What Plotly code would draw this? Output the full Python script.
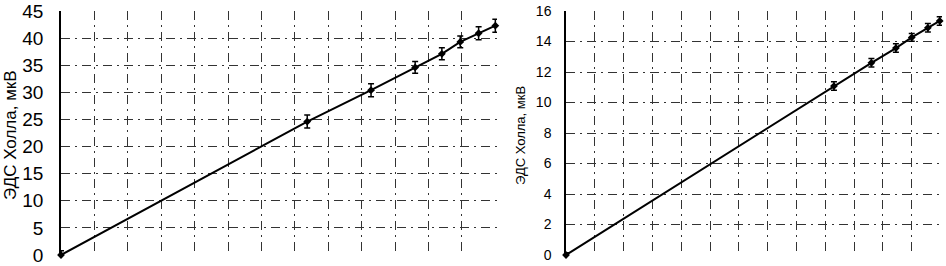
import plotly.graph_objects as go

# Data (x in grid units)
x_left = [0, 7.37, 9.28, 10.6, 11.4, 11.95, 12.5, 13.0]
y_left = [0, 24.6, 30.4, 34.6, 37.1, 39.3, 40.9, 42.3]
err_left = [0.8, 1.2, 1.2, 1.1, 1.1, 1.1, 1.2, 1.2]

x_right = [0, 9.3, 10.6, 11.45, 12.0, 12.56, 12.97]
y_right = [0, 11.08, 12.6, 13.57, 14.27, 14.9, 15.35]
err_right = [0.15, 0.28, 0.28, 0.28, 0.25, 0.28, 0.28]

left_yticks = [0, 5, 10, 15, 20, 25, 30, 35, 40, 45]
right_yticks = [0, 2, 4, 6, 8, 10, 12, 14, 16]
y_title = "ЭДС Холла, мкВ"

W, H = 946, 266
fig = go.Figure()

fig.add_trace(go.Scatter(
    x=x_left, y=y_left, mode="lines+markers",
    line=dict(color="black", width=2),
    marker=dict(symbol="diamond", size=6, color="black"),
    error_y=dict(type="data", array=err_left, color="black", thickness=1.5, width=3),
    xaxis="x", yaxis="y", showlegend=False, cliponaxis=False))

fig.add_trace(go.Scatter(
    x=x_right, y=y_right, mode="lines+markers",
    line=dict(color="black", width=2),
    marker=dict(symbol="diamond", size=6, color="black"),
    error_y=dict(type="data", array=err_right, color="black", thickness=1.5, width=3),
    xaxis="x2", yaxis="y2", showlegend=False, cliponaxis=False))

grid = dict(showgrid=True, gridcolor="#333", gridwidth=1, griddash="9px,5px,2px,5px")

fig.update_layout(
    width=W, height=H, margin=dict(l=0, r=0, t=0, b=0),
    paper_bgcolor="white", plot_bgcolor="white",
    font=dict(family="Liberation Sans, Arial", color="black"),
    xaxis=dict(domain=[61 / W, 497 / W], range=[0, 13.05], tickvals=list(range(0, 13)),
               showticklabels=False, zeroline=False, showline=False, automargin=False,
               anchor="y", **grid),
    yaxis=dict(domain=[11 / H, 255 / H], range=[0, 45], tickvals=left_yticks,
               tickfont=dict(size=19), ticks="", ticklabelstandoff=12,
               ticklabeloverflow="allow",
               zeroline=False, showline=True, linecolor="black", linewidth=1.5,
               automargin=False, anchor="x", **grid),
    xaxis2=dict(domain=[566 / W, 942 / W], range=[0, 13.05], tickvals=list(range(0, 13)),
                showticklabels=False, zeroline=False, showline=False, automargin=False,
                anchor="y2", **grid),
    yaxis2=dict(domain=[11 / H, 255 / H], range=[0, 16], tickvals=right_yticks,
                tickfont=dict(size=14), ticks="", ticklabelstandoff=10,
                ticklabeloverflow="allow",
                zeroline=False, showline=True, linecolor="black", linewidth=1.5,
                automargin=False, anchor="x2", **grid),
    annotations=[
        dict(text=y_title, x=10 / W, y=131 / H, xref="paper", yref="paper",
             textangle=-90, showarrow=False, font=dict(size=17, color="black"),
             xanchor="center", yanchor="middle"),
        dict(text=y_title, x=520 / W, y=130 / H, xref="paper", yref="paper",
             textangle=-90, showarrow=False, font=dict(size=13, color="black"),
             xanchor="center", yanchor="middle"),
    ],
)

fig.write_html("out.html", config={"displayModeBar": False},
               post_script="document.body.style.margin='0';document.body.style.overflow='hidden';")
